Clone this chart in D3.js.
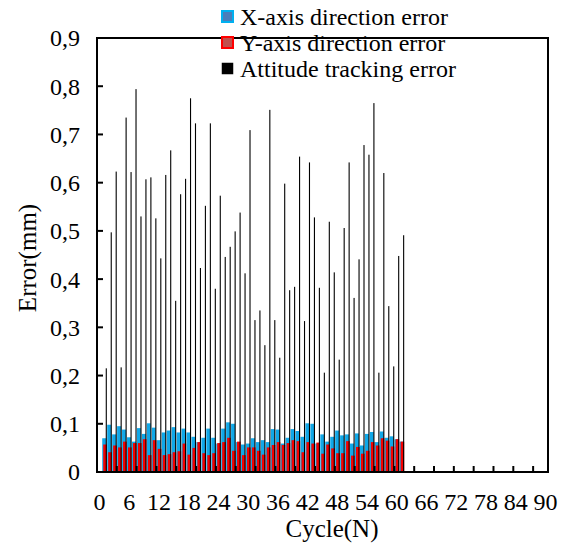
<!DOCTYPE html>
<html><head><meta charset="utf-8">
<script src="https://cdn.jsdelivr.net/npm/d3@7/dist/d3.min.js"></script>
<style>
body{margin:0;background:#fff;}
text{font-family:"Liberation Serif","Times New Roman",serif;fill:#000;}
</style>
</head><body>
<svg id="chart" width="566" height="548"></svg>
<script>
// ---- data ----
const categories = d3.range(0, 91);          // category slots 0..90
const cycles = d3.range(1, 62);              // 61 measured cycles
const xError = [0.070,0.098,0.078,0.095,0.088,0.072,0.063,0.091,0.079,0.101,
                0.092,0.066,0.082,0.086,0.093,0.082,0.090,0.082,0.073,0.062,
                0.071,0.090,0.071,0.059,0.090,0.103,0.100,0.062,0.057,0.059,
                0.070,0.062,0.066,0.062,0.089,0.088,0.059,0.071,0.089,0.085,
                0.073,0.101,0.100,0.059,0.078,0.063,0.073,0.086,0.076,0.078,
                0.059,0.080,0.055,0.079,0.083,0.062,0.084,0.071,0.074,0.068,0.063];
const yError = [0.057,0.041,0.055,0.051,0.063,0.051,0.060,0.060,0.068,0.035,
                0.066,0.048,0.035,0.037,0.041,0.043,0.059,0.036,0.050,0.062,
                0.039,0.035,0.039,0.060,0.062,0.071,0.044,0.063,0.035,0.051,
                0.051,0.044,0.036,0.051,0.056,0.062,0.056,0.060,0.066,0.064,
                0.041,0.062,0.059,0.061,0.038,0.057,0.049,0.039,0.039,0.064,
                0.034,0.052,0.038,0.044,0.062,0.055,0.070,0.065,0.053,0.068,0.063];
const attitudeError = [0.215,0.497,0.623,0.217,0.735,0.622,0.794,0.530,0.607,0.611,
                0.526,0.443,0.616,0.667,0.355,0.576,0.608,0.775,0.723,0.423,
                0.552,0.723,0.380,0.573,0.446,0.467,0.499,0.538,0.412,0.709,
                0.315,0.335,0.263,0.751,0.315,0.237,0.598,0.377,0.384,0.654,
                0.313,0.642,0.528,0.382,0.206,0.519,0.414,0.233,0.506,0.642,
                0.361,0.441,0.678,0.658,0.765,0.206,0.620,0.344,0.219,0.448,0.491];
const xTickLabels = ["0","6","12","18","24","30","36","42","48","54","60","66","72","78","84","90"];
const yTickValues = [0,0.1,0.2,0.3,0.4,0.5,0.6,0.7,0.8,0.9];
const seriesNames = ["X-axis direction error","Y-axis direction error","Attitude tracking error"];

// ---- layout ----
const svg = d3.select("#chart");
const L = 97, R = 548, T = 38, B = 472;
const x = d3.scaleBand().domain(categories).range([L, R]).padding(0);
const y = d3.scaleLinear().domain([0, 0.9]).range([B, T]);
const bw = x.bandwidth();
const fmt = v => v === 0 ? "0" : d3.format(".1f")(v).replace(".", ",");

// bars
const gBars = svg.append("g");
gBars.selectAll("rect.bx").data(cycles).join("rect").attr("class","bx")
  .attr("x", d => x(d) + bw*0.5 - 2.2).attr("width", 4)
  .attr("y", (d,i) => y(xError[i])).attr("height", (d,i) => B - y(xError[i]))
  .attr("fill", "#10a8e8");
gBars.selectAll("rect.by").data(cycles).join("rect").attr("class","by")
  .attr("x", d => x(d) + bw*0.5 - 1.2).attr("width", 3.6)
  .attr("y", (d,i) => y(yError[i])).attr("height", (d,i) => B - y(yError[i]))
  .attr("fill", "#f50000");
gBars.selectAll("rect.ba").data(cycles).join("rect").attr("class","ba")
  .attr("x", d => x(d) + bw*0.5 + 1.3).attr("width", 1.1)
  .attr("y", (d,i) => y(attitudeError[i])).attr("height", (d,i) => B - y(attitudeError[i]))
  .attr("fill", "#000");

// frame
svg.append("rect").attr("x", L).attr("y", T).attr("width", R-L).attr("height", B-T)
  .attr("fill","none").attr("stroke","#000").attr("stroke-width",2);

// y ticks (inward) and labels
svg.append("g").selectAll("line").data(yTickValues.slice(1,-1)).join("line")
  .attr("x1", L).attr("x2", L+6).attr("y1", d=>y(d)).attr("y2", d=>y(d))
  .attr("stroke","#000").attr("stroke-width",2);
svg.append("g").selectAll("text").data(yTickValues).join("text")
  .attr("x", 80).attr("y", d=>y(d)).attr("dy","0.35em")
  .attr("text-anchor","end").attr("font-size",24).text(fmt);

// x ticks (inward, every 4 categories) and labels
const xTickCats = categories.filter(c => c > 0 && c % 4 === 0);
svg.append("g").selectAll("line").data(xTickCats).join("line")
  .attr("x1", d=>x(d)).attr("x2", d=>x(d)).attr("y1", B).attr("y2", B-6)
  .attr("stroke","#000").attr("stroke-width",2);
svg.append("g").selectAll("text").data(xTickLabels).join("text")
  .attr("x", d => x(+d) + bw/2).attr("y", 510)
  .attr("text-anchor","middle").attr("font-size",24).text(d=>d);

// axis titles
svg.append("text").attr("x", 332).attr("y", 537).attr("text-anchor","middle")
  .attr("font-size",25).text("Cycle(N)");
svg.append("text").attr("transform","translate(36,258) rotate(-90)")
  .attr("text-anchor","middle").attr("font-size",25).text("Error(mm)");

// legend
const legY = [11, 37, 63];
const leg = svg.append("g");
const mk = [
  {fill:"#4a7ebb", stroke:"#00b0f0"},
  {fill:"#c0504d", stroke:"#ff0000"},
  {fill:"#000", stroke:"#000"}
];
seriesNames.forEach((name,i) => {
  leg.append("rect").attr("x", 222).attr("y", legY[i]).attr("width", 11).attr("height", 11)
    .attr("fill", mk[i].fill).attr("stroke", mk[i].stroke).attr("stroke-width", i<2 ? 2 : 0.5);
  leg.append("text").attr("x", 240).attr("y", legY[i] + 14).attr("font-size",24).text(name);
});
</script>
</body></html>
